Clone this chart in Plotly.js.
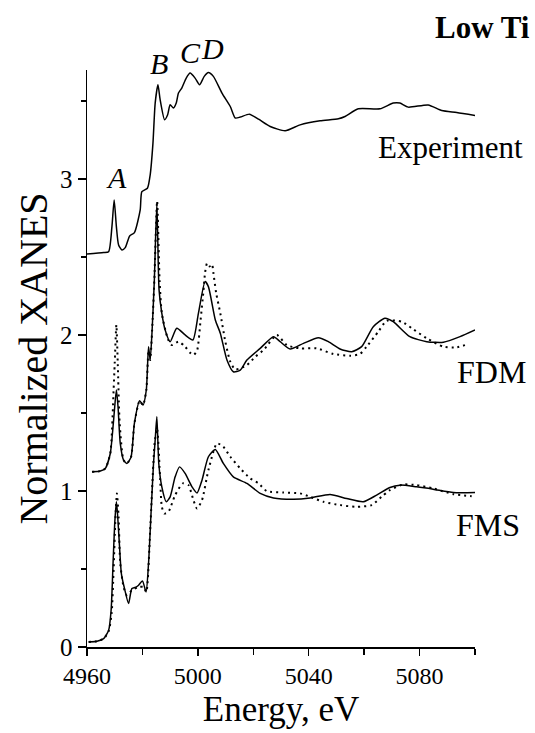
<!DOCTYPE html>
<html>
<head>
<meta charset="utf-8">
<script src="https://cdn.plot.ly/plotly-3.0.1.min.js"></script>
<style>html,body{margin:0;padding:0;background:#fff;}#chart{width:535px;height:733px;}</style>
</head>
<body>
<div id="chart"></div>
<script>
// Experiment (offset spectrum)
const expE = [4960.0,4966.0,4967.8,4969.0,4969.8,4970.6,4971.4,4972.6,4973.8,4975.4,4977.1,4979.2,4979.8,4981.8,4982.8,4983.8,4984.6,4985.6,4986.4,4988.0,4989.1,4990.0,4991.2,4992.2,4993.0,4994.2,4995.8,4997.2,4999.0,5000.6,5002.3,5003.8,5005.6,5008.7,5011.7,5013.5,5015.3,5018.6,5021.9,5026.1,5031.5,5036.9,5044.1,5050.7,5053.1,5057.9,5065.7,5070.5,5072.9,5075.9,5083.1,5088.0,5093.4,5100.0];
const expY = [2.520,2.529,2.535,2.696,2.867,2.696,2.578,2.546,2.561,2.636,2.657,2.803,2.920,2.942,3.028,3.231,3.488,3.605,3.509,3.381,3.413,3.477,3.456,3.488,3.552,3.584,3.648,3.680,3.648,3.605,3.659,3.684,3.659,3.552,3.466,3.392,3.398,3.417,3.385,3.338,3.310,3.348,3.374,3.387,3.402,3.451,3.451,3.488,3.488,3.462,3.476,3.440,3.427,3.408];

// FDM calculation: solid and dotted
const fdmSolidE = [4961.8,4964.8,4966.6,4968.4,4969.6,4970.6,4971.2,4972.0,4973.2,4974.4,4975.9,4977.1,4979.0,4980.2,4981.4,4982.2,4982.8,4983.5,4984.3,4985.2,4986.0,4987.0,4988.2,4990.0,4992.4,4995.4,4998.2,5000.2,5002.6,5003.8,5006.3,5008.1,5010.5,5012.8,5015.3,5017.7,5022.5,5027.3,5029.7,5033.3,5038.1,5043.5,5047.1,5051.3,5055.5,5059.1,5063.3,5067.5,5070.5,5076.5,5082.6,5088.6,5094.6,5100.0];
const fdmSolidY = [1.123,1.128,1.145,1.241,1.455,1.648,1.540,1.306,1.198,1.177,1.219,1.434,1.579,1.551,1.648,1.926,1.840,2.033,2.354,2.846,2.290,2.140,2.033,1.958,2.044,2.001,1.969,2.140,2.343,2.311,2.097,2.012,1.840,1.765,1.776,1.840,1.915,1.990,1.958,1.911,1.947,1.983,1.958,1.911,1.893,1.926,2.054,2.108,2.086,1.990,1.958,1.954,1.990,2.033];
const fdmDotE = [4961.8,4964.8,4966.6,4968.4,4969.6,4970.0,4970.6,4971.1,4971.8,4973.2,4974.4,4975.9,4977.1,4979.0,4980.2,4981.4,4982.2,4982.8,4983.5,4984.3,4985.3,4986.2,4987.0,4989.1,4990.6,4993.0,4995.4,4997.2,4998.4,4999.7,5001.0,5002.0,5002.6,5003.3,5004.2,5005.1,5005.6,5006.6,5008.1,5009.9,5011.7,5013.5,5017.7,5020.7,5023.7,5028.5,5032.1,5036.9,5042.9,5048.9,5054.9,5058.5,5060.9,5065.1,5068.1,5073.6,5077.2,5082.6,5088.6,5093.4,5097.6];
const fdmDotY = [1.123,1.128,1.145,1.241,1.648,1.819,2.065,1.819,1.434,1.198,1.177,1.219,1.434,1.579,1.551,1.648,1.900,1.840,2.033,2.354,2.860,2.350,2.140,1.979,1.936,1.958,1.926,1.887,1.872,1.900,2.100,2.280,2.400,2.460,2.440,2.455,2.400,2.270,2.140,1.960,1.830,1.780,1.808,1.861,1.904,2.001,1.936,1.915,1.915,1.879,1.868,1.879,1.926,2.022,2.092,2.086,2.044,1.979,1.926,1.922,1.943];

// FMS calculation: solid and dotted
const fmsSolidE = [4960.6,4963.6,4966.0,4967.8,4968.7,4969.4,4970.0,4970.6,4971.0,4971.6,4972.4,4973.4,4975.0,4976.2,4977.8,4978.6,4980.0,4981.3,4982.2,4983.1,4984.0,4984.6,4985.2,4985.9,4987.0,4988.6,4990.0,4991.8,4993.4,4995.4,4997.9,4999.7,5001.5,5003.8,5006.3,5009.2,5012.8,5017.7,5022.5,5027.3,5034.5,5040.5,5047.7,5053.7,5059.7,5064.5,5069.3,5072.9,5078.9,5084.9,5092.2,5100.0];
const fmsSolidY = [0.032,0.037,0.054,0.107,0.236,0.535,0.792,0.931,0.856,0.685,0.471,0.385,0.279,0.375,0.385,0.396,0.424,0.353,0.535,0.856,1.177,1.327,1.476,1.177,1.027,0.931,0.963,1.091,1.155,1.113,1.027,0.988,1.070,1.220,1.267,1.177,1.091,1.049,0.985,0.956,0.948,0.956,0.978,0.952,0.931,0.974,1.023,1.038,1.027,1.012,0.991,0.991];
const fmsDotE = [4960.6,4963.6,4966.0,4967.8,4968.9,4969.6,4970.2,4970.8,4971.4,4972.0,4973.2,4974.4,4976.2,4978.6,4980.4,4981.4,4982.8,4984.4,4985.3,4986.4,4987.0,4987.9,4989.4,4991.8,4994.6,4996.6,4998.4,4999.7,5001.5,5003.8,5006.9,5009.2,5011.7,5015.3,5018.9,5021.9,5024.9,5030.9,5036.9,5040.5,5045.3,5051.3,5057.3,5062.7,5066.3,5069.3,5074.1,5078.9,5084.9,5092.2,5098.8];
const fmsDotY = [0.032,0.037,0.054,0.100,0.220,0.500,0.800,0.985,0.834,0.535,0.385,0.332,0.364,0.385,0.385,0.353,0.749,1.306,1.400,1.070,0.899,0.856,0.867,0.974,1.049,1.038,0.942,0.888,0.942,1.134,1.306,1.284,1.220,1.145,1.081,1.049,0.999,0.991,0.985,0.963,0.931,0.910,0.899,0.910,0.963,1.006,1.042,1.038,1.017,0.980,0.967];

// Text labels
const curveLabels = ['Experiment','FDM','FMS'];
const featureLabels = ['A','B','C','D'];
const panelLabel = 'Low Ti';
const xTitle = 'Energy, eV';
const yTitle = 'Normalized XANES';

const FONT = 'Liberation Serif, Times New Roman, serif';
const solid = {color:'#000', width:1.5, shape:'spline', smoothing:0.6};
const dotted = {color:'#000', width:2, dash:'2px,4px', shape:'spline', smoothing:0.6};

const traces = [
  {x:expE, y:expY, mode:'lines', line:solid, name:curveLabels[0]},
  {x:fdmDotE, y:fdmDotY, mode:'lines', line:dotted, name:curveLabels[1]+' dotted'},
  {x:fdmSolidE, y:fdmSolidY, mode:'lines', line:solid, name:curveLabels[1]},
  {x:fmsDotE, y:fmsDotY, mode:'lines', line:dotted, name:curveLabels[2]+' dotted'},
  {x:fmsSolidE, y:fmsSolidY, mode:'lines', line:solid, name:curveLabels[2]}
];

function ann(text, x, y, size, xanchor) {
  return {text:text, x:x, y:y, xref:'paper', yref:'paper', showarrow:false,
    xanchor:xanchor, yanchor:'middle',
    font:{family:FONT, size:size, color:'#000'}};
}

const annotations = [
  ann(curveLabels[0], 1.129, 0.865, 31, 'right'),
  ann(curveLabels[1], 1.137, 0.477, 32, 'right'),
  ann(curveLabels[2], 1.121, 0.211, 32, 'right'),
  ann('<b>'+panelLabel+'</b>', 1.147, 1.073, 31, 'right'),
  ann('<i>'+featureLabels[0]+'</i>', 0.0765, 0.813, 30, 'center'),
  ann('<i>'+featureLabels[1]+'</i>', 0.1856, 1.012, 30, 'center'),
  ann('<i>'+featureLabels[2]+'</i>', 0.2655, 1.031, 30, 'center'),
  ann('<i>'+featureLabels[3]+'</i>', 0.3222, 1.038, 30, 'center')
];

const layout = {
  width:535, height:733,
  margin:{l:87, r:60, t:70, b:86},
  paper_bgcolor:'#fff', plot_bgcolor:'#fff',
  showlegend:false,
  font:{family:FONT, color:'#000'},
  xaxis:{
    range:[4960,5100], tick0:4960, dtick:40, ticks:'outside', ticklen:7, tickwidth:1.5,
    tickcolor:'#000', showline:true, linecolor:'#000', linewidth:1.5, showgrid:false, zeroline:false,
    minor:{dtick:20, tick0:4960, ticks:'outside', ticklen:6, tickwidth:1.5, tickcolor:'#000', showgrid:false},
    tickfont:{family:FONT, size:24, color:'#000'},
    title:{text:xTitle, font:{family:FONT, size:35, color:'#000'}, standoff:8}
  },
  yaxis:{
    range:[0,3.7], tick0:0, dtick:1, ticks:'outside', ticklen:8, tickwidth:1.5,
    tickcolor:'#000', showline:true, linecolor:'#000', linewidth:1.5, showgrid:false, zeroline:false,
    minor:{dtick:0.5, tick0:0, ticks:'outside', ticklen:5, tickwidth:1.5, tickcolor:'#000', showgrid:false},
    tickfont:{family:FONT, size:25, color:'#000'},
    title:{text:yTitle, font:{family:FONT, size:40, color:'#000'}, standoff:0}
  },
  annotations:annotations
};

Plotly.newPlot('chart', traces, layout, {staticPlot:true, displayModeBar:false});
</script>
</body>
</html>
